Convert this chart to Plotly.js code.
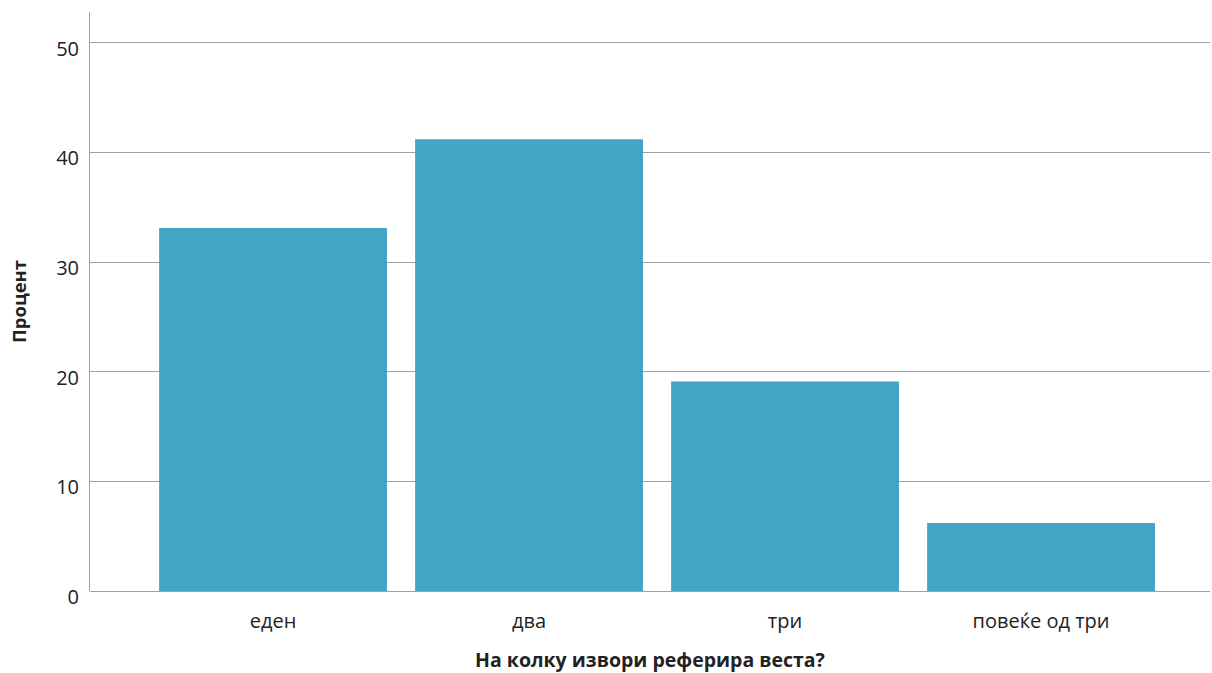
<!DOCTYPE html>
<html>
<head>
<meta charset="utf-8">
<script src="https://cdn.plot.ly/plotly-3.0.1.min.js"></script>
<style>html,body{margin:0;padding:0;background:#fff;}#chart{width:1212px;height:673px;}</style>
</head>
<body>
<div id="chart"></div>
<script>
const categories = ["еден", "два", "три", "повеќе од три"];
const percents = [33.1, 41.2, 19.1, 6.2];
const yTicks = [0, 10, 20, 30, 40, 50];
const xTitle = "На колку извори реферира веста?";
const yTitle = "Процент";

const trace = {
  type: "bar",
  x: [0, 1, 2, 3],
  y: percents,
  width: 0.89,
  marker: {color: "#43A5C4", line: {width: 0}},
  hoverinfo: "skip"
};

const layout = {
  width: 1212, height: 673,
  margin: {l: 90, r: 2, t: 12, b: 82},
  paper_bgcolor: "#fff", plot_bgcolor: "#fff",
  font: {family: "Open Sans, sans-serif", color: "#222", size: 20},
  showlegend: false,
  xaxis: {
    range: [-0.715, 3.66],
    tickmode: "array", tickvals: [0, 1, 2, 3], ticktext: categories,
    showgrid: false, zeroline: false, showline: false, ticks: "",
    ticklabelstandoff: 16,
    tickfont: {size: 20, color: "#222"},
    automargin: false,
    title: {text: "<b>" + xTitle + "</b>", font: {size: 19.5, color: "#222"}, standoff: 24}
  },
  yaxis: {
    range: [0, 52.8],
    tickmode: "array", tickvals: yTicks, ticktext: yTicks.map(String),
    showgrid: true, gridcolor: "#a0a0a0", gridwidth: 1,
    zeroline: true, zerolinecolor: "#a0a0a0", zerolinewidth: 1,
    showline: true, linecolor: "#a0a0a0", linewidth: 1,
    ticks: "", ticklen: 0,
    ticklabelstandoff: 6, ticklabelshift: 6,
    tickfont: {size: 20, color: "#222"},
    automargin: false,
    title: {text: "<b>" + yTitle + "</b>", font: {size: 18.5, color: "#222"}, standoff: 24}
  }
};

Plotly.newPlot("chart", [trace], layout, {displayModeBar: false, staticPlot: true});
</script>
</body>
</html>
